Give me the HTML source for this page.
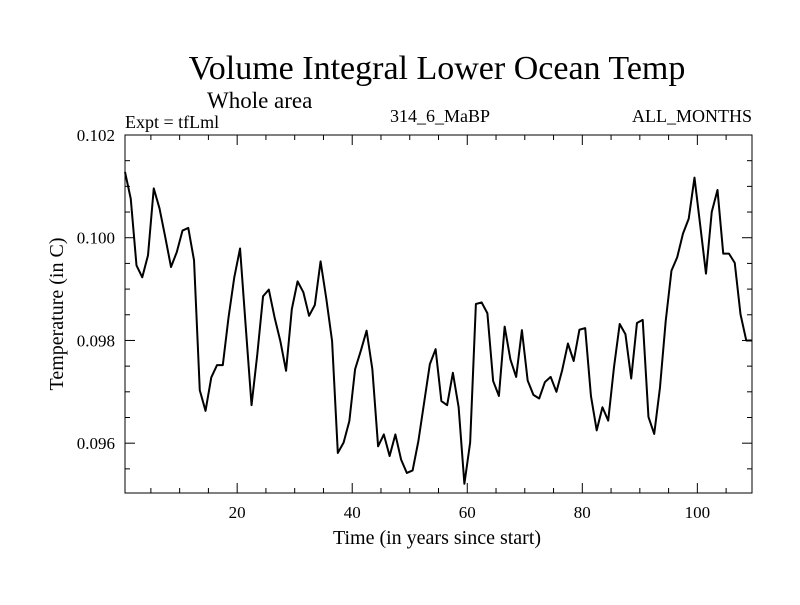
<!DOCTYPE html>
<html><head><meta charset="utf-8"><style>
body{margin:0;background:#fff}
svg text{font-family:"Liberation Serif",serif;fill:#000}
</style></head><body>
<svg id="chart" width="800" height="600" xmlns="http://www.w3.org/2000/svg">
<rect width="800" height="600" fill="#fff"/>
<text x="437" y="79" font-size="34" text-anchor="middle">Volume Integral Lower Ocean Temp</text>
<text x="207" y="108" font-size="23">Whole area</text>
<text x="125" y="128" font-size="18">Expt = tfLml</text>
<text x="440" y="122" font-size="18" text-anchor="middle">314_6_MaBP</text>
<text x="752" y="122" font-size="18" text-anchor="end">ALL_MONTHS</text>
<text transform="translate(63,314) rotate(-90)" font-size="20" text-anchor="middle">Temperature (in C)</text>
<text x="437" y="544" font-size="20" text-anchor="middle">Time (in years since start)</text>
<g id="axes"></g>
<path id="series" fill="none" stroke="#000" stroke-width="2" stroke-linejoin="round"/>
</svg>
<script>
const values=[0.10128,0.10076,0.09946,0.09923,0.09966,0.10096,0.10057,0.10001,0.09943,0.09972,
0.10014,0.10019,0.09956,0.09703,0.09663,0.09728,0.09752,0.09752,0.09845,0.09923,
0.09979,0.09825,0.09674,0.09773,0.09886,0.09899,0.09845,0.09799,0.09741,0.09861,
0.09915,0.09894,0.09848,0.09869,0.09954,0.09881,0.09799,0.09581,0.09601,0.09643,
0.09744,0.09780,0.09819,0.09744,0.09594,0.09617,0.09575,0.09617,0.09568,0.09542,
0.09547,0.09604,0.09679,0.09754,0.09783,0.09682,0.09674,0.09737,0.09670,0.09521,
0.09601,0.09871,0.09874,0.09853,0.09721,0.09692,0.09827,0.09763,0.09729,0.09820,
0.09722,0.09694,0.09687,0.09719,0.09729,0.09700,0.09742,0.09794,0.09760,0.09821,
0.09824,0.09692,0.09625,0.09670,0.09644,0.09747,0.09832,0.09812,0.09726,0.09834,
0.09840,0.09651,0.09618,0.09708,0.09838,0.09936,0.09962,0.10008,0.10037,0.10117,
0.10024,0.09930,0.10050,0.10093,0.09969,0.09969,0.09951,0.09851,0.09800,0.09800];
const xTicks=[20,40,60,80,100];
const yTicks=[0.096,0.098,0.100,0.102];
const yTickLabels=["0.096","0.098","0.100","0.102"];
const L=125,R=752,T=135,B=493,XMIN=0.5,XMAX=109.5,YMIN=0.09503,YMAX=0.102;
const sx=v=>L+(v-XMIN)/(XMAX-XMIN)*(R-L);
const sy=v=>B-(v-YMIN)/(YMAX-YMIN)*(B-T);
const NS="http://www.w3.org/2000/svg";
const axes=document.getElementById('axes');
function ln(x1,y1,x2,y2,name){const l=document.createElementNS(NS,'line');
l.setAttribute('x1',x1);l.setAttribute('y1',y1);l.setAttribute('x2',x2);l.setAttribute('y2',y2);
l.setAttribute('stroke','#000');l.setAttribute('stroke-width','1');


axes.appendChild(l);}
function tx(x,y,s,anchor,name){const t=document.createElementNS(NS,'text');
t.setAttribute('x',x);t.setAttribute('y',y);t.setAttribute('font-size','17');t.setAttribute('text-anchor',anchor);t.textContent=s;


axes.appendChild(t);}
const frame=document.createElementNS(NS,'rect');
frame.setAttribute('x',L);frame.setAttribute('y',T);frame.setAttribute('width',R-L);frame.setAttribute('height',B-T);
frame.setAttribute('fill','none');frame.setAttribute('stroke','#000');


axes.appendChild(frame);
for(let v=5;v<=XMAX;v+=5){const x=sx(v);const maj=v%20===0;const len=maj?10:5;
ln(x,B,x,B-len,'x-tick');ln(x,T,x,T+len,'x-tick-top');}
xTicks.forEach(v=>tx(sx(v),B+25,String(v),'middle','x-tick-label'));
for(let k=0;k<=14;k++){const v=0.0955+k*0.0005;if(v>YMAX+1e-9)break;const y=sy(v);
const maj=Math.abs((v*1000)%2)<1e-6||Math.abs((v*1000)%2-2)<1e-6;const len=maj?10:5;
ln(L,y,L+len,y,'y-tick');ln(R,y,R-len,y,'y-tick-right');}
yTicks.forEach((v,i)=>tx(L-10,sy(v)+6,yTickLabels[i],'end','y-tick-label'));
let d='';values.forEach((v,i)=>{d+=(i?'L':'M')+sx(0.5+i).toFixed(2)+','+sy(v).toFixed(2);});
document.getElementById('series').setAttribute('d',d);
</script>
</body></html>
